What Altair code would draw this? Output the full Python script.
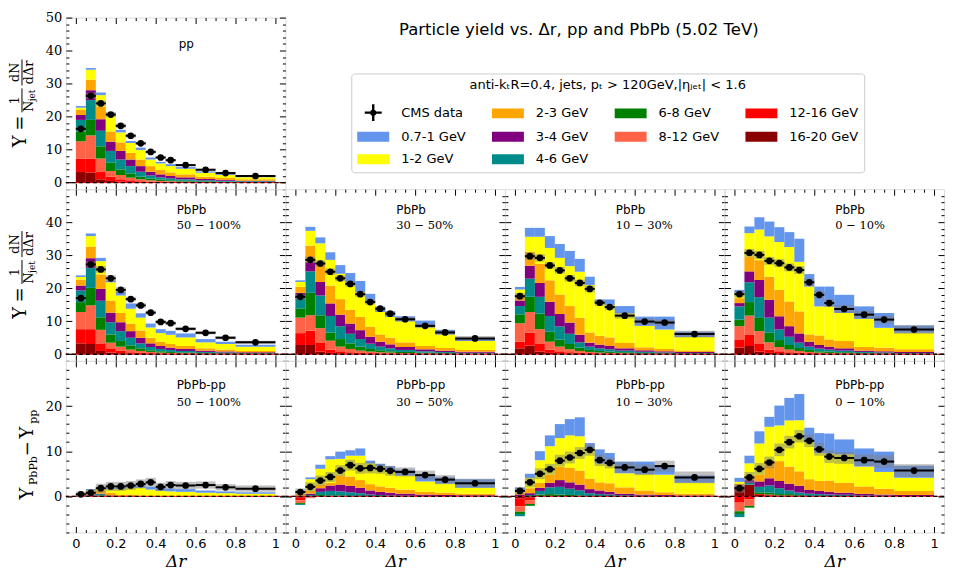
import altair as alt
import pandas as pd

# ---------------- data ----------------
EDGES = [0.0, 0.05, 0.1, 0.15, 0.2, 0.25, 0.3, 0.35, 0.4, 0.45, 0.5, 0.6, 0.7, 0.8, 1.0]
# stacking order, bottom -> top
COMPS = ["16-20 GeV", "12-16 GeV", "8-12 GeV", "6-8 GeV", "4-6 GeV",
         "3-4 GeV", "2-3 GeV", "1-2 GeV", "0.7-1 GeV"]
COLORS = ["#8b0000", "#ff0000", "#ff6347", "#008000", "#008b8b",
          "#800080", "#ffa500", "#ffff00", "#6495ed"]

PP_STACK = [
    [3.2, 3.0, 1.0, 0.5, 0.3, 0.2, 0.1, 0.1, 0.05, 0.05, 0.03, 0.02, 0.02, 0.01],
    [4.1, 4.3, 2.2, 1.3, 0.7, 0.5, 0.3, 0.2, 0.15, 0.1, 0.07, 0.06, 0.04, 0.04],
    [5.2, 7.0, 4.1, 1.7, 1.3, 0.8, 0.6, 0.4, 0.3, 0.25, 0.2, 0.12, 0.09, 0.05],
    [3.0, 4.7, 3.7, 2.5, 1.7, 1.3, 0.8, 0.5, 0.4, 0.3, 0.25, 0.2, 0.15, 0.1],
    [3.5, 6.0, 4.7, 3.6, 3.0, 2.2, 1.5, 1.0, 0.7, 0.6, 0.45, 0.3, 0.25, 0.2],
    [1.5, 3.0, 3.5, 2.8, 2.6, 2.0, 1.7, 1.1, 0.9, 0.7, 0.6, 0.4, 0.3, 0.2],
    [1.5, 3.2, 3.8, 3.1, 2.6, 2.0, 2.0, 1.7, 1.3, 1.1, 0.9, 0.7, 0.55, 0.4],
    [0.7, 3.0, 3.5, 5.2, 3.0, 3.0, 2.9, 2.0, 2.0, 1.9, 1.7, 1.2, 0.9, 0.65],
    [0.5, 0.5, 0.8, 0.3, 0.8, 0.6, 0.7, 0.6, 0.5, 0.6, 0.5, 0.4, 0.3, 0.25],
]
PP_CMS = [16.3, 26.3, 24.0, 20.6, 17.2, 14.2, 11.9, 9.3, 7.6, 6.8, 5.3, 3.9, 2.9, 2.0]
PP_SYS = [0.7, 1.0, 0.9, 0.8, 0.7, 0.6, 0.5, 0.5, 0.4, 0.4, 0.35, 0.3, 0.3, 0.3]

C50_STACK = [
    [3.3, 3.1, 1.0, 0.5, 0.3, 0.2, 0.1, 0.1, 0.05, 0.05, 0.03, 0.02, 0.02, 0.01],
    [4.3, 4.5, 2.3, 1.3, 0.7, 0.4, 0.3, 0.2, 0.15, 0.1, 0.07, 0.06, 0.04, 0.04],
    [5.2, 7.2, 4.1, 1.7, 1.3, 0.8, 0.6, 0.4, 0.3, 0.25, 0.2, 0.12, 0.09, 0.05],
    [3.0, 5.3, 3.8, 2.5, 1.7, 1.3, 0.8, 0.5, 0.4, 0.3, 0.25, 0.2, 0.15, 0.1],
    [3.5, 6.0, 5.0, 3.7, 3.0, 2.3, 1.5, 1.0, 0.7, 0.6, 0.45, 0.3, 0.25, 0.2],
    [1.5, 3.0, 3.6, 2.9, 2.7, 2.0, 1.7, 1.1, 0.9, 0.7, 0.6, 0.4, 0.3, 0.2],
    [1.8, 3.5, 4.4, 3.7, 2.8, 2.3, 2.2, 1.7, 1.3, 1.1, 0.9, 0.7, 0.55, 0.4],
    [0.8, 3.2, 4.0, 5.5, 5.3, 4.5, 3.9, 3.1, 2.6, 2.8, 2.6, 1.8, 1.7, 1.3],
    [0.5, 0.8, 1.0, 0.5, 1.2, 1.6, 1.3, 1.2, 1.2, 1.2, 1.2, 1.0, 0.7, 0.6],
]
C50_CMS = [17.0, 27.2, 25.7, 23.0, 19.5, 16.7, 14.8, 12.6, 9.8, 9.4, 7.7, 6.5, 5.0, 3.6]
C50_SYS = [0.8, 1.0, 1.0, 0.9, 0.8, 0.7, 0.7, 0.6, 0.6, 0.6, 0.5, 0.5, 0.5, 0.5]

C30_STACK = [
    [2.8, 2.8, 0.8, 0.4, 0.3, 0.2, 0.1, 0.1, 0.05, 0.05, 0.03, 0.02, 0.02, 0.01],
    [3.6, 4.3, 2.6, 1.0, 0.6, 0.4, 0.3, 0.2, 0.15, 0.1, 0.07, 0.06, 0.04, 0.04],
    [4.7, 4.7, 4.5, 2.7, 1.4, 1.0, 0.7, 0.5, 0.4, 0.35, 0.25, 0.17, 0.12, 0.07],
    [2.8, 6.8, 3.9, 2.5, 2.3, 1.7, 1.2, 0.8, 0.6, 0.4, 0.35, 0.25, 0.17, 0.13],
    [3.0, 6.5, 6.0, 5.0, 3.9, 2.9, 2.3, 1.6, 1.1, 0.9, 0.6, 0.4, 0.3, 0.2],
    [1.7, 2.8, 4.1, 3.8, 3.5, 3.1, 2.7, 2.1, 1.5, 1.2, 0.9, 0.6, 0.45, 0.3],
    [1.8, 5.0, 5.9, 5.4, 4.7, 4.2, 4.0, 3.0, 2.2, 2.0, 1.4, 1.0, 0.8, 0.55],
    [1.5, 4.5, 5.8, 7.8, 7.7, 8.0, 7.5, 7.3, 6.8, 6.3, 6.4, 5.7, 4.1, 2.7],
    [0.5, 1.2, 1.8, 2.3, 2.6, 3.1, 3.4, 2.7, 1.6, 1.7, 1.5, 2.0, 1.4, 0.6],
]
C30_CMS = [17.4, 28.6, 27.5, 25.0, 23.0, 21.3, 18.2, 15.8, 13.8, 12.3, 10.6, 8.6, 6.6, 4.8]
C30_SYS = [0.9, 1.0, 1.0, 1.0, 0.9, 0.9, 0.8, 0.8, 0.7, 0.7, 0.7, 0.7, 0.7, 0.7]

C10_STACK = [
    [1.8, 2.6, 0.8, 0.4, 0.3, 0.2, 0.1, 0.1, 0.05, 0.05, 0.03, 0.02, 0.02, 0.01],
    [2.0, 4.0, 2.5, 1.0, 0.6, 0.4, 0.3, 0.2, 0.15, 0.1, 0.07, 0.06, 0.04, 0.04],
    [5.6, 6.2, 4.3, 2.4, 1.4, 0.9, 0.6, 0.4, 0.3, 0.25, 0.2, 0.12, 0.09, 0.05],
    [2.7, 4.6, 4.7, 3.0, 2.1, 1.6, 1.0, 0.6, 0.5, 0.4, 0.3, 0.2, 0.15, 0.1],
    [2.5, 5.5, 5.1, 4.8, 4.0, 3.1, 1.6, 1.0, 0.8, 0.7, 0.5, 0.35, 0.25, 0.2],
    [1.7, 3.9, 4.2, 4.3, 3.8, 3.4, 2.3, 1.2, 1.1, 1.0, 0.7, 0.45, 0.35, 0.25],
    [1.7, 4.3, 5.8, 6.5, 5.9, 5.0, 5.1, 3.1, 2.7, 2.6, 1.6, 0.9, 0.7, 0.45],
    [1.6, 4.5, 8.2, 9.8, 11.1, 12.1, 14.0, 14.4, 9.9, 9.9, 9.0, 6.5, 5.9, 4.1],
    [0.8, 2.7, 2.7, 3.6, 4.2, 4.6, 3.9, 2.5, 1.1, 1.6, 2.2, 2.8, 3.9, 1.6],
]
C10_CMS = [17.6, 29.7, 29.2, 26.9, 25.4, 23.0, 21.6, 19.8, 15.6, 14.3, 11.7, 9.9, 9.6, 6.1]
C10_SYS = [1.0, 1.1, 1.1, 1.0, 1.0, 1.0, 1.0, 1.0, 0.9, 0.9, 0.9, 0.9, 0.9, 1.0]

C0_STACK = [
    [2.0, 2.5, 0.8, 0.4, 0.3, 0.2, 0.1, 0.1, 0.05, 0.05, 0.03, 0.02, 0.02, 0.01],
    [2.5, 3.5, 2.5, 1.0, 0.6, 0.4, 0.3, 0.2, 0.15, 0.1, 0.07, 0.06, 0.04, 0.04],
    [4.0, 5.7, 3.7, 2.2, 1.3, 0.8, 0.6, 0.4, 0.3, 0.25, 0.2, 0.12, 0.09, 0.05],
    [2.0, 4.1, 4.0, 2.9, 2.1, 1.4, 0.9, 0.6, 0.4, 0.4, 0.3, 0.2, 0.15, 0.1],
    [4.0, 6.0, 6.3, 4.6, 3.2, 2.5, 1.6, 1.0, 0.8, 0.6, 0.5, 0.3, 0.25, 0.2],
    [1.0, 3.3, 5.2, 5.4, 4.0, 3.2, 2.8, 1.5, 1.1, 0.9, 0.7, 0.4, 0.35, 0.3],
    [1.5, 4.4, 6.0, 7.0, 8.0, 7.5, 6.7, 2.2, 2.9, 2.2, 2.2, 1.1, 1.1, 0.8],
    [1.6, 7.2, 9.3, 12.2, 14.5, 16.5, 15.0, 14.5, 8.8, 10.0, 8.5, 8.5, 6.0, 5.0],
    [0.9, 2.0, 3.7, 4.5, 4.5, 4.5, 7.0, 3.8, 6.0, 6.0, 5.5, 3.8, 4.5, 2.2],
]
C0_CMS = [18.2, 30.7, 30.1, 28.3, 27.6, 26.3, 25.5, 21.8, 18.0, 15.5, 13.7, 12.0, 10.5, 7.5]
C0_SYS = [1.0, 1.2, 1.2, 1.2, 1.2, 1.2, 1.2, 1.2, 1.2, 1.2, 1.2, 1.2, 1.2, 1.3]

D50_STACK = [
    [0.1, 0.1, 0, 0, 0, 0, 0, 0, 0, 0, 0, 0, 0, 0],
    [0.1, 0.2, 0.1, 0, 0, 0, 0, 0, 0, 0, 0, 0, 0, 0],
    [0, 0.2, 0, 0, 0, 0, 0, 0, 0, 0, 0, 0, 0, 0],
    [0, 0.3, 0.1, 0, 0, 0, 0, 0, 0, 0, 0, 0, 0, 0],
    [0, 0, 0.3, 0.1, 0, 0.1, 0, 0, 0, 0, 0, 0, 0, 0],
    [0, 0, 0.1, 0.1, 0.1, 0, 0, 0, 0, 0, 0, 0, 0, 0],
    [0.2, 0.3, 0.6, 0.6, 0.2, 0.3, 0.2, 0, 0, 0, 0, 0, 0, 0],
    [0.1, 0.2, 0.5, 0.8, 1.3, 1.5, 1.7, 1.5, 1.2, 1.1, 1.0, 0.8, 0.7, 0.6],
    [0.1, 0.3, 0.2, 0.2, 0.4, 0.5, 0.6, 0.6, 0.7, 0.6, 0.6, 0.5, 0.4, 0.3],
]
D50_CMS = [0.45, 0.8, 1.8, 2.2, 2.2, 2.4, 2.75, 3.1, 2.1, 2.5, 2.4, 2.5, 2.0, 1.7]
D50_SYS = [0.6, 0.8, 1.0, 1.0, 1.0, 1.0, 1.0, 1.0, 0.9, 0.9, 0.8, 0.8, 0.7, 0.7]

D30_STACK = [
    [-0.3, -0.1, 0, 0, 0, 0, 0, 0, 0, 0, 0, 0, 0, 0],
    [-0.6, -0.1, 0, 0, 0, 0, 0, 0, 0, 0, 0, 0, 0, 0],
    [-0.6, -0.2, 0.1, 0, 0, 0, 0, 0, 0, 0, 0, 0, 0, 0],
    [-0.2, 0.1, 0.2, 0.2, 0.2, 0.1, 0.1, 0.05, 0, 0, 0, 0, 0, 0],
    [-0.2, 0.2, 0.7, 1.0, 0.9, 0.8, 0.6, 0.35, 0.3, 0.2, 0.15, 0.1, 0.05, 0.05],
    [0.1, 0.3, 0.8, 1.2, 1.5, 1.4, 1.2, 0.9, 0.7, 0.6, 0.45, 0.3, 0.25, 0.2],
    [0.5, 0.7, 0.8, 0.6, 2.0, 2.1, 1.7, 1.4, 1.2, 1.1, 0.9, 0.6, 0.5, 0.35],
    [0.6, 2.5, 3.5, 5.2, 3.7, 4.6, 5.4, 4.6, 4.4, 3.8, 3.1, 2.3, 2.0, 1.3],
    [0.1, 0.4, 0.9, 0.7, 1.6, 1.2, 1.6, 0.6, 0.6, 1.0, 1.3, 1.3, 1.4, 1.9],
]
D30_CMS = [0.95, 2.1, 3.5, 4.3, 5.7, 6.9, 6.2, 6.3, 6.1, 5.65, 5.4, 4.7, 3.7, 2.9]
D30_SYS = [0.8, 1.0, 1.1, 1.1, 1.2, 1.2, 1.2, 1.2, 1.1, 1.1, 1.0, 1.0, 1.0, 1.0]

D10_STACK = [
    [-0.5, -0.3, 0, 0, 0, 0, 0, 0, 0, 0, 0, 0, 0, 0],
    [-1.7, -0.6, 0, 0, 0, 0, 0, 0, 0, 0, 0, 0, 0, 0],
    [-1.2, -0.8, 0.1, 0.1, 0, 0, 0, 0, 0, 0, 0, 0, 0, 0],
    [-0.5, -0.4, 0.3, 0.4, 0.4, 0.3, 0.2, 0.1, 0.05, 0.05, 0, 0, 0, 0],
    [-0.5, 0.3, 0.8, 1.5, 1.7, 1.4, 1.1, 0.6, 0.45, 0.35, 0.25, 0.15, 0.1, 0.05],
    [0.3, 0.4, 0.7, 1.0, 1.5, 1.4, 1.3, 0.9, 0.8, 0.6, 0.35, 0.25, 0.2, 0.15],
    [0.5, 1.1, 1.1, 1.8, 2.9, 3.2, 3.1, 2.3, 1.8, 1.9, 1.4, 0.9, 0.6, 0.4],
    [0.3, 2.3, 5.0, 6.3, 6.4, 7.2, 7.6, 6.7, 4.2, 4.2, 3.1, 3.6, 3.9, 2.4],
    [0.8, 0.9, 2.0, 2.4, 3.1, 3.6, 4.2, 1.2, 3.1, 2.5, 2.6, 2.8, 1.8, 1.6],
]
D10_CMS = [1.2, 3.1, 5.0, 6.0, 7.9, 8.6, 9.6, 10.3, 8.0, 7.4, 6.4, 5.9, 6.7, 4.2]
D10_SYS = [0.9, 1.1, 1.2, 1.2, 1.3, 1.3, 1.3, 1.3, 1.3, 1.2, 1.2, 1.2, 1.2, 1.3]

D0_STACK = [
    [2.2, 2.6, 0.3, 0.2, 0.1, 0.1, 0.05, 0, 0, 0, 0, 0, 0, 0],
    [-1.4, -0.6, 0.2, 0.2, 0.1, 0.1, 0, 0, 0, 0, 0, 0, 0, 0],
    [-1.9, -1.5, 0, 0, 0, 0, 0, 0, 0, 0, 0, 0, 0, 0],
    [-0.6, -0.4, 0.4, 0.4, 0.3, 0.3, 0.2, 0.1, 0.1, 0.05, 0.05, 0, 0, 0],
    [-0.7, 0.4, 1.2, 1.6, 1.3, 0.8, 0.6, 0.5, 0.4, 0.35, 0.3, 0.2, 0.15, 0.1],
    [0.2, 0.6, 1.2, 1.6, 1.6, 1.5, 1.5, 0.8, 0.7, 0.6, 0.45, 0.35, 0.25, 0.2],
    [0.4, 0.8, 1.5, 4.0, 4.4, 3.8, 3.2, 2.4, 2.2, 2.5, 2.2, 1.65, 1.3, 0.9],
    [0.4, 2.9, 6.9, 7.4, 7.9, 10.2, 11.3, 8.2, 6.2, 6.0, 6.3, 4.4, 3.7, 2.9],
    [0.9, 1.7, 2.7, 2.2, 4.4, 5.0, 5.8, 3.2, 4.4, 4.4, 3.3, 4.0, 4.5, 2.7],
]
D0_CMS = [1.8, 4.2, 6.1, 7.5, 10.3, 12.0, 13.3, 12.3, 10.4, 8.8, 8.5, 8.0, 7.7, 5.7]
D0_SYS = [1.0, 1.2, 1.3, 1.3, 1.4, 1.4, 1.4, 1.4, 1.4, 1.4, 1.3, 1.3, 1.4, 1.4]

TITLE = "Particle yield vs. \u0394r, pp and PbPb (5.02 TeV)"
LEGEND_TITLE = "anti-k\u209cR=0.4, jets, p\u209c > 120GeV,|\u03b7\u2c7c\u2091\u209c| < 1.6"

# ---------------- styling / layout ----------------
W, H = 220, 172
SERIF = "DejaVu Serif"
SANS = "DejaVu Sans"
DUMMY = pd.DataFrame({"v": [0.0]})

# legend entries, read row by row (4 columns)
LEGEND_ORDER = ["CMS data", "2-3 GeV", "6-8 GeV", "12-16 GeV",
                "0.7-1 GeV", "3-4 GeV", "8-12 GeV", "16-20 GeV",
                "1-2 GeV", "4-6 GeV"]
COLOR_OF = dict(zip(COMPS, COLORS))
COLOR_OF["CMS data"] = "black"
COLOR_SCALE = alt.Scale(domain=LEGEND_ORDER, range=[COLOR_OF[c] for c in LEGEND_ORDER])
RECT_PATH = "M-1.6,-0.5H1.6V0.5H-1.6Z"
CROSS_PATH = ("M-0.85,-0.12H0.85V0.12H-0.85Z M-0.12,-0.85H0.12V0.85H-0.12Z "
              "M0.32,0A0.32,0.32 0 1,1 -0.32,0A0.32,0.32 0 1,1 0.32,0Z")
SHAPE_SCALE = alt.Scale(domain=LEGEND_ORDER,
                        range=[CROSS_PATH if c == "CMS data" else RECT_PATH for c in LEGEND_ORDER])

LEG = alt.Legend(
    title=LEGEND_TITLE, orient="none", legendX=286, legendY=56,
    direction="horizontal", columns=4, columnPadding=26, rowPadding=5.5,
    symbolSize=400, symbolStrokeWidth=0, symbolOffset=6, labelOffset=18,
    labelFont=SANS, labelFontSize=13, labelColor="black", labelLimit=300,
    titleFont=SANS, titleFontSize=13, titleFontWeight="normal", titleColor="black",
    titleAnchor="middle", titleLimit=800, titlePadding=10,
    strokeColor="#cccccc", fillColor="white", padding=6, cornerRadius=3,
)

X_MAJOR = [0.0, 0.2, 0.4, 0.6, 0.8, 1.0]
X_MINOR = [round(0.05 * i, 2) for i in range(21) if i % 4 != 0]
ROWS = {
    0: ([-2, 50], [0, 10, 20, 30, 40, 50], [v for v in range(-2, 51, 2) if v % 10 != 0]),
    1: ([-2, 50], [0, 10, 20, 30, 40], [v for v in range(-2, 51, 2) if v % 10 != 0]),
    2: ([-8, 30], [0, 10, 20], [v for v in range(-8, 31, 2) if v % 10 != 0]),
}

PANELS = {
    "pp": (PP_STACK, PP_CMS, PP_SYS, "pp", None),
    "c50": (C50_STACK, C50_CMS, C50_SYS, "PbPb", "50 \u2212 100%"),
    "c30": (C30_STACK, C30_CMS, C30_SYS, "PbPb", "30 \u2212 50%"),
    "c10": (C10_STACK, C10_CMS, C10_SYS, "PbPb", "10 \u2212 30%"),
    "c0": (C0_STACK, C0_CMS, C0_SYS, "PbPb", "0 \u2212 10%"),
    "d50": (D50_STACK, D50_CMS, D50_SYS, "PbPb-pp", "50 \u2212 100%"),
    "d30": (D30_STACK, D30_CMS, D30_SYS, "PbPb-pp", "30 \u2212 50%"),
    "d10": (D10_STACK, D10_CMS, D10_SYS, "PbPb-pp", "10 \u2212 30%"),
    "d0": (D0_STACK, D0_CMS, D0_SYS, "PbPb-pp", "0 \u2212 10%"),
}


def bars_frame(stack):
    rows = []
    for k, (comp, vals) in enumerate(zip(COMPS, stack)):
        for i, v in enumerate(vals):
            rows.append({"comp": comp, "ord": k, "x0": EDGES[i], "x1": EDGES[i + 1], "val": v})
    return pd.DataFrame(rows)


def points_frame(cms, sys):
    rows = []
    for i, (v, s) in enumerate(zip(cms, sys)):
        rows.append({"x0": EDGES[i], "x1": EDGES[i + 1], "xc": (EDGES[i] + EDGES[i + 1]) / 2,
                     "val": v, "lo": v - s, "hi": v + s})
    return pd.DataFrame(rows)


def txt(t, x, y, font, size, align="left", angle=0, style="normal"):
    kw = dict(align=align, baseline="middle", font=font, fontSize=size, color="black",
              fontStyle=style)
    if angle:
        kw["angle"] = angle
    return alt.Chart(DUMMY).mark_text(**kw).encode(
        x=alt.value(x), y=alt.value(y), text=alt.value(t))


def vbar(x, y1, y2):
    return alt.Chart(DUMMY).mark_rule(color="black", strokeWidth=1).encode(
        x=alt.value(x), y=alt.value(y1), y2=alt.value(y2))


def axis_layers(xsc, ysc, ymaj, ymin, ylab, xlab):
    out = []
    for orient in ("left", "right"):
        for vals, size in ((ymaj, 6), (ymin, 3)):
            show = orient == "left" and size == 6 and ylab
            ax = alt.Axis(orient=orient, values=vals, tickSize=size, offset=-size, domain=False,
                          grid=False, labels=show, tickColor="black", tickWidth=1, title=None,
                          format="d", labelFont=SERIF, labelFontSize=13, labelColor="black",
                          labelPadding=4, zindex=1)
            out.append(alt.Chart(DUMMY).mark_point(opacity=0).encode(
                x=alt.X("v:Q", scale=xsc, axis=None),
                y=alt.Y("v:Q", scale=ysc, axis=ax)))
    for orient in ("bottom", "top"):
        for vals, size in ((X_MAJOR, 6), (X_MINOR, 3)):
            show = orient == "bottom" and size == 6 and xlab
            if show:
                ax = alt.Axis(orient=orient, values=vals, tickSize=size, offset=-size, domain=False,
                              grid=False, labels=True, tickColor="black", tickWidth=1,
                              format="~g", labelFont=SANS, labelFontSize=13, labelColor="black",
                              labelPadding=5, labelFlush=False, zindex=1,
                              title="\u0394r", titleFont=SERIF, titleFontStyle="italic",
                              titleFontSize=17, titleFontWeight="normal", titleColor="black",
                              titlePadding=3)
            else:
                ax = alt.Axis(orient=orient, values=vals, tickSize=size, offset=-size, domain=False,
                              grid=False, labels=False, tickColor="black", tickWidth=1,
                              title=None, zindex=1)
            out.append(alt.Chart(DUMMY).mark_point(opacity=0).encode(
                x=alt.X("v:Q", scale=xsc, axis=ax),
                y=alt.Y("v:Q", scale=ysc, axis=None)))
    return out


def ytitle_layers(row):
    if row < 2:
        return [
            txt("Y", -45, 124, SERIF, 18, "center", 270),
            txt("=", -45, 106, SERIF, 18, "center", 270),
            txt("1", -51, 83, SERIF, 13, "center", 270),
            vbar(-44, 71, 95),
            txt("N", -37, 89, SERIF, 13, "center", 270),
            txt("jet", -34, 78, SERIF, 9, "center", 270),
            txt("dN", -51, 55, SERIF, 13, "center", 270),
            vbar(-44, 42, 68),
            txt("d\u0394r", -37, 55, SERIF, 13, "center", 270),
        ]
    return [
        txt("Y", -38, 133, SERIF, 18, "center", 270),
        txt("PbPb", -32, 110, SERIF, 11, "center", 270),
        txt("\u2212", -38, 88, SERIF, 18, "center", 270),
        txt("Y", -38, 72, SERIF, 18, "center", 270),
        txt("pp", -32, 56, SERIF, 11, "center", 270),
    ]


def panel(key, row, col):
    stack, cms, sys, lab1, lab2 = PANELS[key]
    ydom, ymaj, ymin = ROWS[row]
    xsc = alt.Scale(domain=[-0.05, 1.05], nice=False, zero=False)
    ysc = alt.Scale(domain=ydom, nice=False, zero=False)

    bars = alt.Chart(bars_frame(stack)).transform_stack(
        stack="val", groupby=["x0"], as_=["s0", "s1"],
        sort=[alt.SortField("ord", order="ascending")], offset="zero"
    ).mark_rect().encode(
        x=alt.X("x0:Q", scale=xsc, axis=None), x2="x1:Q",
        y=alt.Y("s0:Q", scale=ysc, axis=None), y2="s1:Q",
        color=alt.Color("comp:N", scale=COLOR_SCALE, legend=LEG),
    )
    zero = pd.DataFrame({"z": [0.0]})
    zred = alt.Chart(zero).mark_rule(color="red", strokeWidth=1).encode(
        y=alt.Y("z:Q", scale=ysc, axis=None))
    zblack = alt.Chart(zero).mark_rule(color="black", strokeWidth=1.3, strokeDash=[4, 3]).encode(
        y=alt.Y("z:Q", scale=ysc, axis=None))

    pdf = points_frame(cms, sys)
    base = alt.Chart(pdf)
    box = base.mark_rect(color="#808080", opacity=0.5).encode(
        x=alt.X("x0:Q", scale=xsc, axis=None), x2="x1:Q",
        y=alt.Y("lo:Q", scale=ysc, axis=None), y2="hi:Q")
    herr = base.mark_rule(color="black", strokeWidth=2).encode(
        x=alt.X("x0:Q", scale=xsc, axis=None), x2="x1:Q",
        y=alt.Y("val:Q", scale=ysc, axis=None))
    pts = base.mark_circle(color="black", size=45, opacity=1).encode(
        x=alt.X("xc:Q", scale=xsc, axis=None),
        y=alt.Y("val:Q", scale=ysc, axis=None))

    layers = [bars, zred, zblack, box, herr, pts]
    if row == 0:
        layers.append(txt(lab1, 113, 26, SANS, 12))
    elif row == 1:
        layers.append(txt(lab1, 111, 21, SANS, 12))
        layers.append(txt(lab2, 111, 37, SERIF, 11.5))
    else:
        layers.append(txt(lab1, 111, 24, SANS, 12))
        layers.append(txt(lab2, 111, 42, SERIF, 11.5))
    if col == 0:
        layers += ytitle_layers(row)
    layers += axis_layers(xsc, ysc, ymaj, ymin, col == 0, row == 2)
    return alt.layer(*layers).resolve_axis(x="independent", y="independent").properties(
        width=W, height=H)


legend_layer = alt.Chart(pd.DataFrame({"comp": LEGEND_ORDER})).transform_filter(
    "false").mark_point(filled=True, opacity=1, size=400).encode(
    color=alt.Color("comp:N", scale=COLOR_SCALE, legend=LEG),
    shape=alt.Shape("comp:N", scale=SHAPE_SCALE, legend=LEG),
)
title_cell = alt.layer(
    txt(TITLE, 294, 12, SANS, 16.5, "center"), legend_layer
).properties(width=W, height=H, view=alt.ViewBackground(stroke="transparent"))


def blank():
    return alt.Chart(DUMMY).mark_text(text="").encode(
        x=alt.value(0), y=alt.value(0)).properties(
        width=W, height=H, view=alt.ViewBackground(stroke="transparent"))


cells = [
    panel("pp", 0, 0), title_cell, blank(), blank(),
    panel("c50", 1, 0), panel("c30", 1, 1), panel("c10", 1, 2), panel("c0", 1, 3),
    panel("d50", 2, 0), panel("d30", 2, 1), panel("d10", 2, 2), panel("d0", 2, 3),
]

chart = alt.concat(*cells, columns=4, spacing=0, bounds="flush").properties(
    padding={"left": 0, "top": 2, "right": 0, "bottom": 0}
).configure_view(stroke="black", strokeWidth=1.2).configure(background="white")

chart.save("out.html", embed_options={"renderer": "svg", "actions": False})
